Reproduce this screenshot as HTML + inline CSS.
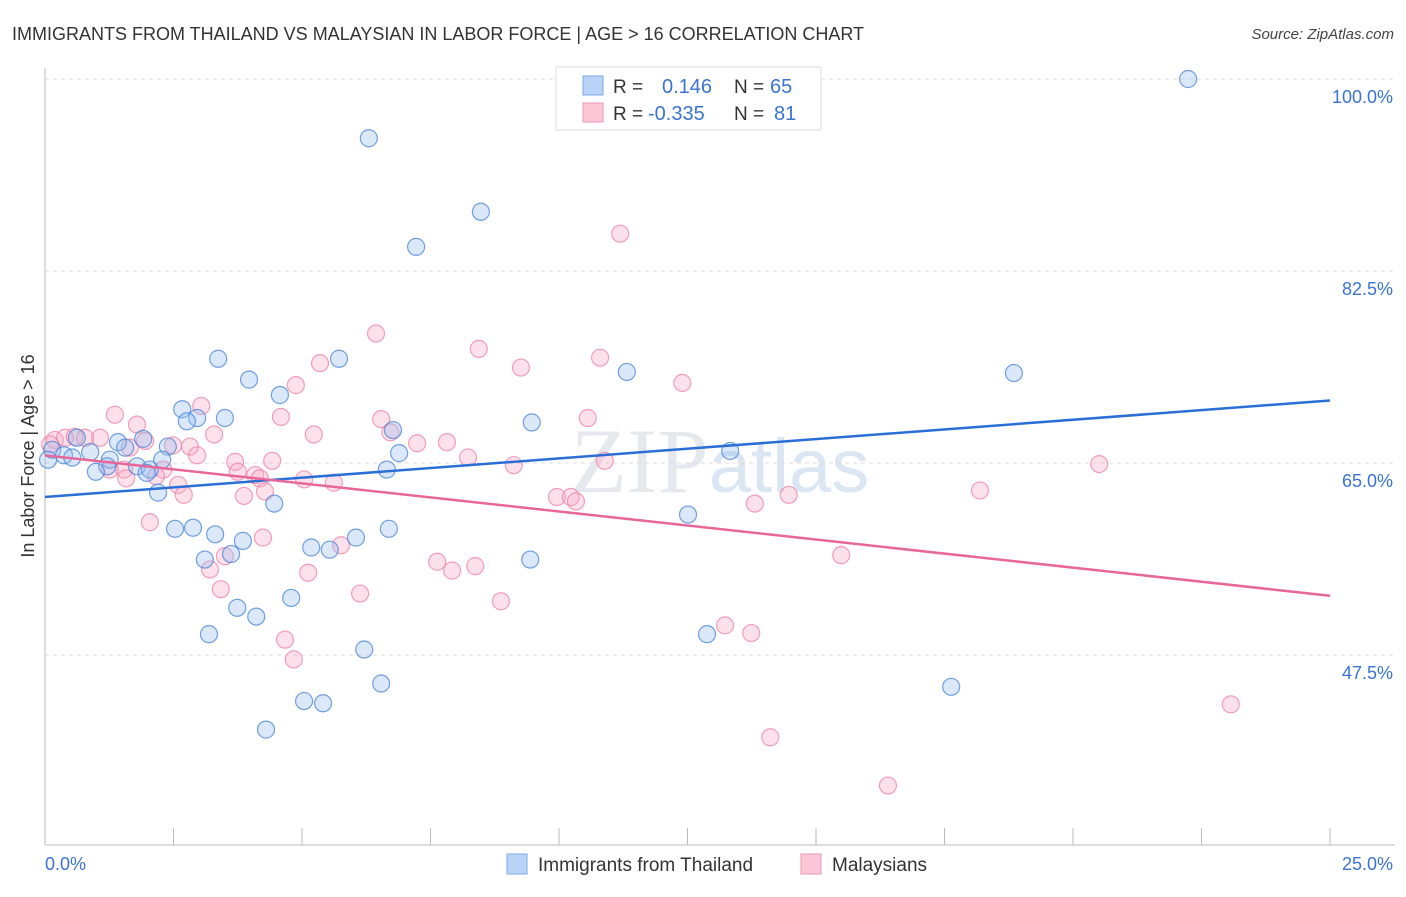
<!DOCTYPE html>
<html><head><meta charset="utf-8"><style>
body{margin:0;background:#fff;font-family:"Liberation Sans",sans-serif;}
</style></head><body>
<svg width="1406" height="892" xmlns="http://www.w3.org/2000/svg" font-family="Liberation Sans, sans-serif">
<text x="12" y="40" font-size="18" fill="#333">IMMIGRANTS FROM THAILAND VS MALAYSIAN IN LABOR FORCE | AGE &gt; 16 CORRELATION CHART</text>
<text x="1394" y="39" font-size="15" fill="#444" text-anchor="end" font-style="italic">Source: ZipAtlas.com</text>
<text x="720" y="492" font-size="92" fill="#e5e9ee" text-anchor="middle" font-family="Liberation Serif, serif">ZIP<tspan fill="#dbe6f3" font-family="Liberation Sans, sans-serif" font-size="76">atlas</tspan></text>
<g id="grid"></g>
<g id="axes"></g>
<g id="marks"></g>
<text transform="translate(34,456) rotate(-90)" font-size="18" fill="#333" text-anchor="middle">In Labor Force | Age &gt; 16</text>
<g>
<rect x="556" y="67" width="265" height="63" fill="#fff" stroke="#ddd"/>
<rect x="583" y="76" width="20" height="19" fill="#b8d3f5" stroke="#7aa8e6"/>
<rect x="583" y="103" width="20" height="19" fill="#fcc8d8" stroke="#ee95b2"/>
<text x="613" y="93" font-size="19" fill="#333">R =</text>
<text x="662" y="93" font-size="20" fill="#3a74d0">0.146</text>
<text x="734" y="93" font-size="19" fill="#333">N =</text>
<text x="770" y="93" font-size="20" fill="#3a74d0">65</text>
<text x="613" y="120" font-size="19" fill="#333">R =</text>
<text x="648" y="120" font-size="20" fill="#3a74d0">-0.335</text>
<text x="734" y="120" font-size="19" fill="#333">N =</text>
<text x="774" y="120" font-size="20" fill="#3a74d0">81</text>
</g>
<g>
<rect x="507" y="854" width="20" height="20" fill="#b8d3f5" stroke="#7aa8e6"/>
<text x="538" y="871" font-size="19" fill="#333">Immigrants from Thailand</text>
<rect x="801" y="854" width="20" height="20" fill="#fcc8d8" stroke="#ee95b2"/>
<text x="832" y="871" font-size="19" fill="#333">Malaysians</text>
</g>
</svg>
<script>
const blueX=[22.24,6.30,8.48,7.22,3.37,5.72,11.32,18.85,3.97,4.57,2.67,3.50,2.96,2.76,9.47,6.77,1.42,1.91,0.62,2.39,1.56,13.33,6.89,0.14,0.37,0.53,0.88,1.26,2.28,1.79,1.21,2.04,0.99,6.65,1.98,2.20,4.46,12.51,6.69,2.53,2.88,3.31,3.85,6.05,5.18,5.54,9.44,3.11,3.62,4.79,3.74,4.11,3.19,12.88,6.21,6.54,17.63,5.04,5.41,4.30,0.06];
const blueY=[100,94.6,87.9,84.7,74.5,74.5,73.3,73.2,72.6,71.2,69.9,69.1,69.1,68.8,68.7,68.0,66.9,67.2,67.3,66.5,66.4,66.1,65.9,66.2,65.7,65.5,66.0,65.3,65.3,64.7,64.7,64.4,64.2,64.4,64.1,62.3,61.3,60.3,59.0,59.0,59.1,58.5,57.9,58.2,57.3,57.1,56.2,56.2,56.7,52.7,51.8,51.0,49.4,49.4,48.0,44.9,44.6,43.3,43.1,40.7,65.3];
const pinkX=[11.19,6.44,8.44,10.80,5.35,9.26,12.4,4.88,3.04,1.36,4.59,6.54,10.56,1.79,3.29,5.23,6.72,1.07,1.95,7.24,7.82,2.49,2.82,0.19,0.39,0.58,0.78,0.10,2.96,1.65,8.23,3.70,4.42,10.89,9.12,20.51,1.54,1.26,4.09,3.75,2.30,4.18,5.04,5.62,2.59,2.16,1.58,2.70,4.28,3.87,18.19,9.96,10.23,10.33,14.47,13.81,2.04,4.24,5.76,3.50,15.49,7.63,3.21,7.92,8.37,5.12,3.42,6.13,8.87,13.23,13.74,4.67,4.84,23.07,14.11,16.4];
const pinkY=[85.9,76.8,75.4,74.6,74.1,73.7,72.3,72.1,70.2,69.4,69.2,69.0,69.1,68.5,67.6,67.6,67.8,67.3,67.0,66.8,66.9,66.6,66.5,67.1,67.3,67.4,67.3,66.7,65.7,66.4,65.5,65.1,65.2,65.2,64.8,64.9,64.4,64.4,63.9,64.2,64.4,63.6,63.5,63.2,63.0,63.8,63.6,62.1,62.4,62.0,62.5,61.9,61.9,61.5,62.1,61.3,59.6,58.2,57.5,56.5,56.6,56.0,55.3,55.2,55.6,55.0,53.5,53.1,52.4,50.2,49.5,48.9,47.1,43.0,40.0,35.6];
const blueTrend=[61.9,70.7];
const pinkTrend=[65.7,52.9];
const yTicks=[100,82.5,65,47.5];
const yTickLabels=["100.0%","82.5%","65.0%","47.5%"];
const xTickCount=10;
const NS="http://www.w3.org/2000/svg";
const xs=v=>45+v*(1285/25);
const ys=v=>79+(100-v)*(192/17.5);
function mk(tag,attrs,parent){const e=document.createElementNS(NS,tag);for(const k in attrs)e.setAttribute(k,attrs[k]);document.getElementById(parent).appendChild(e);return e;}
yTicks.forEach((t,i)=>{
 const l=mk('line',{x1:45,x2:1395,y1:ys(t),y2:ys(t),stroke:'#ddd','stroke-dasharray':'4,4'},'grid');
 
 
 const tx=mk('text',{x:1393,y:ys(t)+24,'font-size':18,fill:'#3a74d0','text-anchor':'end'},'grid');
 tx.textContent=yTickLabels[i];
 
 
});
const ax=mk('line',{x1:45,x2:45,y1:68,y2:845,stroke:'#bbb'},'axes');


const bx=mk('line',{x1:45,x2:1395,y1:845,y2:845,stroke:'#bbb'},'axes');


for(let i=1;i<=xTickCount;i++){const v=i*25/xTickCount;
 const t=mk('line',{x1:xs(v),x2:xs(v),y1:828,y2:845,stroke:'#bbb'},'axes');
 
 }
const x0=mk('text',{x:45,y:870,'font-size':18,fill:'#3a74d0'},'axes');x0.textContent='0.0%';


const x1=mk('text',{x:1393,y:870,'font-size':18,fill:'#3a74d0','text-anchor':'end'},'axes');x1.textContent='25.0%';


pinkX.forEach((v,i)=>{const c=mk('circle',{cx:xs(v),cy:ys(pinkY[i]),r:8.5,fill:'rgba(248,170,195,0.35)',stroke:'rgba(236,130,165,0.75)','stroke-width':1.2},'marks');
 
 });
blueX.forEach((v,i)=>{const c=mk('circle',{cx:xs(v),cy:ys(blueY[i]),r:8.5,fill:'rgba(150,190,240,0.35)',stroke:'rgba(70,130,215,0.75)','stroke-width':1.2},'marks');
 
 });
const bl=mk('line',{x1:xs(0),x2:xs(25),y1:ys(blueTrend[0]),y2:ys(blueTrend[1]),stroke:'#2a6fd6','stroke-width':2.5},'marks');


const pl=mk('line',{x1:xs(0),x2:xs(25),y1:ys(pinkTrend[0]),y2:ys(pinkTrend[1]),stroke:'#e8679a','stroke-width':2.5},'marks');


</script>
</body></html>
